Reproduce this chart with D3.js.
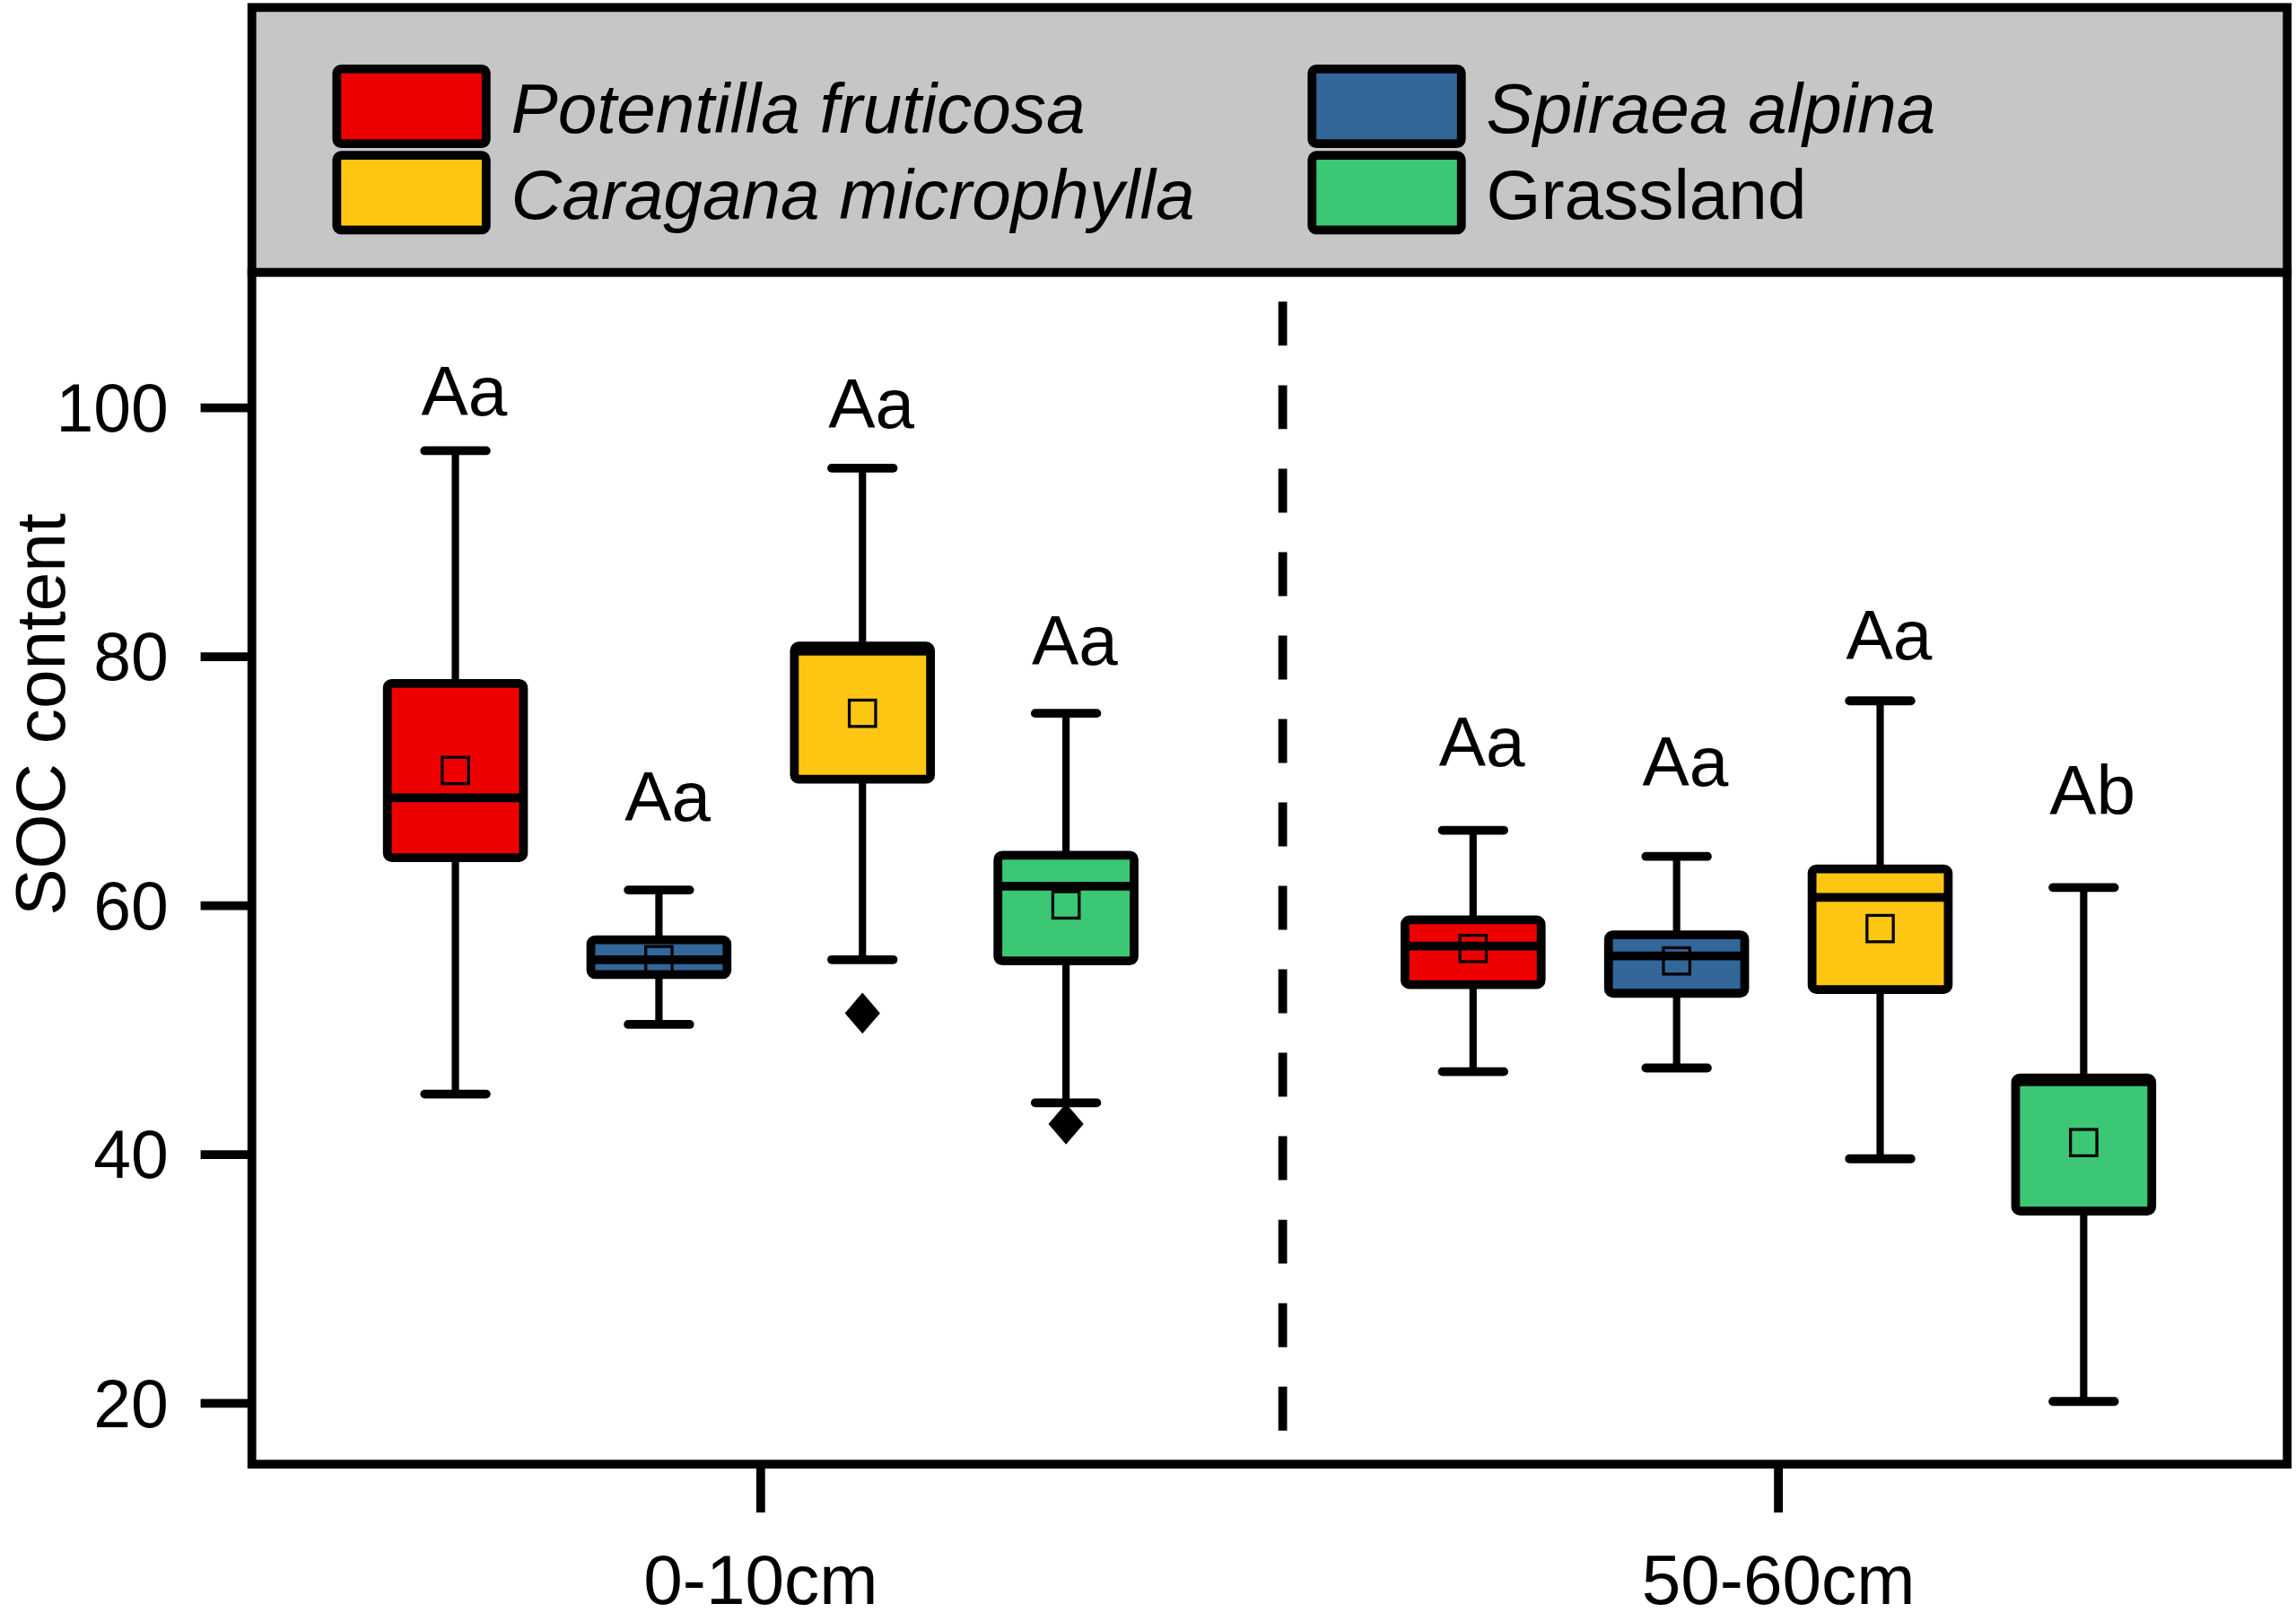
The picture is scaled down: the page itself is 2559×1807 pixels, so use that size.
<!DOCTYPE html>
<html>
<head>
<meta charset="utf-8">
<script src="https://cdn.jsdelivr.net/npm/d3@7"></script>
<style>
  html, body { margin: 0; padding: 0; background: #fff; }
  text { font-family: "Liberation Sans", Arial, sans-serif; fill: #000; }
</style>
</head>
<body>
<div id="chart"></div>
<script>
// depth groups and species (plot order)
var depths = ["0-10cm", "50-60cm"];
var species = ["Potentilla fruticosa", "Spiraea alpina", "Caragana microphylla", "Grassland"];
var colors = ["#ee0000", "#336699", "#fdc613", "#3bc774"];
var italicName = [true, true, true, false];

// box statistics, [depth][species]
var whiskerHigh = [[96.5, 61.2, 95.1, 75.4], [66.0, 63.9, 76.4, 61.4]];
var boxTop      = [[77.8, 57.2, 80.8, 64.0], [58.8, 57.6, 62.9, 46.1]];
var median      = [[68.6, 55.6, 80.4, 61.5], [56.7, 55.9, 60.6, 45.8]];
var boxBottom   = [[63.8, 54.4, 70.1, 55.5], [53.6, 52.9, 53.2, 35.4]];
var whiskerLow  = [[44.8, 50.4, 55.6, 44.1], [46.6, 46.9, 39.6, 20.1]];
var mean        = [[70.8, 55.6, 75.4, 60.0], [56.5, 55.5, 58.1, 40.9]];
var outliers    = [[[], [], [51.3], [42.4]], [[], [], [], []]];

// significance letters and their heights
var letters = [["Aa", "Aa", "Aa", "Aa"], ["Aa", "Aa", "Aa", "Ab"]];
var letterY = [[101.4, 68.8, 100.4, 81.3], [73.2, 71.6, 81.8, 69.3]];

var yTicks = [20, 40, 60, 80, 100];

// legend layout: [column, row] for each species
var legendSlot = [[0, 0], [1, 0], [0, 1], [1, 1]];

function draw() {
  // work in a 1568 x 1107 frame, scaled up to the page
  var W = 1568, H = 1107;
  var svg = d3.select("#chart").append("svg")
    .attr("width", 2559)
    .attr("height", 1807)
    .attr("viewBox", "0 0 " + W + " " + H);

  var frame = { left: 172, right: 1562, top: 5, legendBottom: 186, bottom: 1000 };

  var y = d3.scaleLinear().domain([20, 100]).range([958, 278]);
  var xGroup = d3.scaleBand().domain(depths).range([frame.left, frame.right]);
  var xInner = d3.scalePoint().domain(species).range([0, xGroup.bandwidth()]).padding(1);

  var boxW = 93, capW = 48;

  // legend panel
  svg.append("rect")
    .attr("x", frame.left).attr("y", frame.top)
    .attr("width", frame.right - frame.left)
    .attr("height", frame.legendBottom - frame.top)
    .attr("fill", "#c6c6c6")
    .attr("stroke", "#000").attr("stroke-width", 6);

  // plot frame
  svg.append("rect")
    .attr("x", frame.left).attr("y", frame.legendBottom)
    .attr("width", frame.right - frame.left)
    .attr("height", frame.bottom - frame.legendBottom)
    .attr("fill", "#fff")
    .attr("stroke", "#000").attr("stroke-width", 6);

  // legend entries
  species.forEach(function(s, i) {
    var col = legendSlot[i][0], row = legendSlot[i][1];
    var lx = 230 + col * 666, ly = 47 + row * 59;
    svg.append("rect")
      .attr("x", lx).attr("y", ly)
      .attr("width", 102).attr("height", 51)
      .attr("rx", 3)
      .attr("fill", colors[i])
      .attr("stroke", "#000").attr("stroke-width", 6);
    svg.append("text")
      .attr("x", lx + 119).attr("y", ly + 26)
      .attr("dy", "0.36em")
      .style("font-size", "48px")
      .style("font-style", italicName[i] ? "italic" : "normal")
      .text(s);
  });

  // y axis
  var yAxis = d3.axisLeft(y).tickValues(yTicks).tickSize(35).tickPadding(22);
  var gy = svg.append("g")
    .attr("transform", "translate(" + frame.left + ",0)")
    .call(yAxis);
  gy.select(".domain").remove();
  gy.selectAll(".tick line").attr("stroke", "#000").attr("stroke-width", 6);
  gy.selectAll(".tick text").style("font-size", "46px").attr("dy", "0.35em");

  // x axis
  var xAxis = d3.axisBottom(xGroup).tickSize(33).tickPadding(29);
  var gx = svg.append("g")
    .attr("transform", "translate(0," + frame.bottom + ")")
    .call(xAxis);
  gx.select(".domain").remove();
  gx.selectAll(".tick line").attr("stroke", "#000").attr("stroke-width", 6);
  gx.selectAll(".tick text").style("font-size", "48px").attr("dy", "0.7em");

  // y label
  svg.append("text")
    .attr("transform", "translate(44," + y(75.3) + ") rotate(-90)")
    .attr("text-anchor", "middle")
    .style("font-size", "48px")
    .text("SOC content");

  // dashed separator between depth groups
  var sepX = xGroup("50-60cm") + 9;
  svg.append("line")
    .attr("x1", sepX).attr("x2", sepX)
    .attr("y1", frame.legendBottom + 20).attr("y2", frame.bottom - 15)
    .attr("stroke", "#000").attr("stroke-width", 6)
    .attr("stroke-dasharray", "30,27");

  // boxes
  depths.forEach(function(d, di) {
    species.forEach(function(s, si) {
      var cx = xGroup(d) + xInner(s);
      var g = svg.append("g");

      // whiskers
      g.append("line")
        .attr("x1", cx).attr("x2", cx)
        .attr("y1", y(whiskerHigh[di][si])).attr("y2", y(boxTop[di][si]))
        .attr("stroke", "#000").attr("stroke-width", 5);
      g.append("line")
        .attr("x1", cx).attr("x2", cx)
        .attr("y1", y(boxBottom[di][si])).attr("y2", y(whiskerLow[di][si]))
        .attr("stroke", "#000").attr("stroke-width", 5);
      [whiskerHigh[di][si], whiskerLow[di][si]].forEach(function(v) {
        g.append("line")
          .attr("x1", cx - capW / 2 + 3).attr("x2", cx + capW / 2 - 3)
          .attr("y1", y(v)).attr("y2", y(v))
          .attr("stroke", "#000").attr("stroke-width", 6)
          .attr("stroke-linecap", "round");
      });

      // box
      g.append("rect")
        .attr("x", cx - boxW / 2)
        .attr("y", y(boxTop[di][si]))
        .attr("width", boxW)
        .attr("height", y(boxBottom[di][si]) - y(boxTop[di][si]))
        .attr("rx", 3)
        .attr("fill", colors[si])
        .attr("stroke", "#000").attr("stroke-width", 6)
        .attr("stroke-linejoin", "round");

      // median
      g.append("line")
        .attr("x1", cx - boxW / 2).attr("x2", cx + boxW / 2)
        .attr("y1", y(median[di][si])).attr("y2", y(median[di][si]))
        .attr("stroke", "#000").attr("stroke-width", 6);

      // mean
      g.append("rect")
        .attr("x", cx - 9).attr("y", y(mean[di][si]) - 9)
        .attr("width", 18).attr("height", 18)
        .attr("fill", "none")
        .attr("stroke", "#000").attr("stroke-width", 2);

      // outliers
      outliers[di][si].forEach(function(v) {
        var oy = y(v);
        g.append("path")
          .attr("d", "M" + cx + "," + (oy - 14) + "L" + (cx + 12) + "," + oy +
                     "L" + cx + "," + (oy + 14) + "L" + (cx - 12) + "," + oy + "Z")
          .attr("fill", "#000");
      });

      // letters
      g.append("text")
        .attr("x", cx + 6)
        .attr("y", y(letterY[di][si]))
        .attr("dy", "0.36em")
        .attr("text-anchor", "middle")
        .style("font-size", "48px")
        .text(letters[di][si]);
    });
  });
}

draw();
</script>
</body>
</html>
